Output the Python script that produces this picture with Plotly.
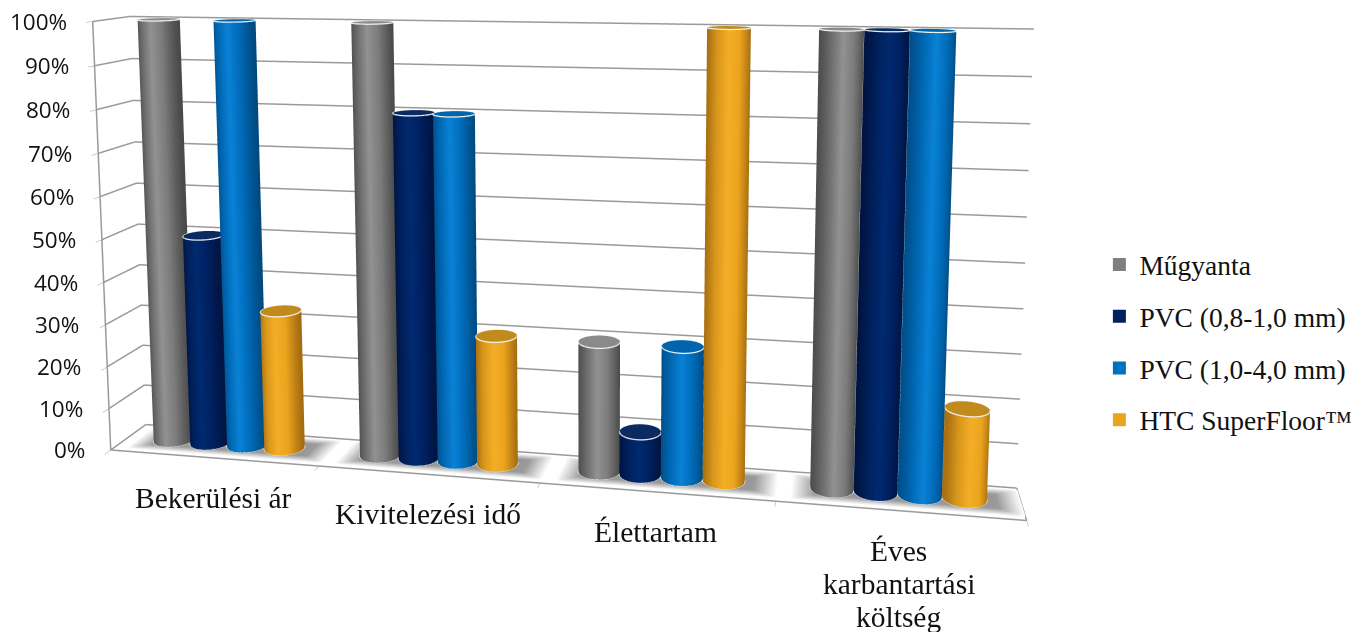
import numpy as np
import plotly.graph_objects as go

categories = ["Bekerülési ár", "Kivitelezési idő", "Élettartam", "Éves<br>karbantartási<br>költség"]
series_names = ["Műgyanta", "PVC (0,8-1,0 mm)", "PVC (1,0-4,0 mm)", "HTC SuperFloor™"]
mugyanta = [100, 100, 30, 100]
pvc_thin = [50, 80, 10, 100]
pvc_thick = [100, 80, 30, 100]
htc = [33, 30, 100, 20]
values = [mugyanta, pvc_thin, pvc_thick, htc]
z_ticks = list(range(0, 101, 10))
z_labels = [f"{i}%" for i in z_ticks]
colors = ["#7f7f7f", "#002060", "#0070c0", "#eaa51e"]
caps = ["#8a8a8a", "#0a2a60", "#0065ad", "#c08a1c"]
scales = [
    [[0, "#4e4e4e"], [0.2, "#6c6c6c"], [0.45, "#929292"], [0.7, "#7c7c7c"], [1, "#4a4a4a"]],
    [[0, "#001440"], [0.2, "#00205c"], [0.45, "#002a70"], [0.7, "#002060"], [1, "#00133c"]],
    [[0, "#00508c"], [0.2, "#0068b4"], [0.45, "#0a82d6"], [0.7, "#006cba"], [1, "#004a80"]],
    [[0, "#a87012"], [0.2, "#d8961c"], [0.45, "#f4ae26"], [0.7, "#eca41e"], [1, "#a46c10"]],
]

FIG_H = 1120
SHIFT = 484
ASPECT = dict(x=2.14, y=0.17, z=1.045)
RX = 0.09
RY = RX * (ASPECT["x"] / 4) / ASPECT["y"]
SPACING = 0.181
EYE = dict(x=0.653, y=-2.985, z=0.7575)
CENTER = dict(x=0.098, y=0.014, z=0.407)
view = np.arctan2(EYE["y"] - CENTER["y"], EYE["x"] - CENTER["x"])
theta = np.linspace(0, 2 * np.pi, 73)

fig = go.Figure()
none_hover = dict(hoverinfo="skip", showscale=False, showlegend=False)
flat = dict(ambient=1, diffuse=0, specular=0, roughness=1, fresnel=0)
grid = "#9a9a9a"

def line(x, y, z, width=3, color=grid):
    fig.add_trace(go.Scatter3d(x=x, y=y, z=z, mode="lines", line=dict(color=color, width=width),
                               hoverinfo="skip", showlegend=False))

# walls: thick grid lines and axis lines
for t in z_ticks:
    line([0, 0, 4], [0, 1, 1], [t, t, t])
line([0, 4, 4], [0, 0, 1], [0, 0, 0])
line([0, 0], [0, 0], [0, 100])

# floor shadows
for c in range(len(categories)):
    gx = np.linspace(c + 0.5 - 0.44, c + 0.5 + 0.50, 40)
    gy = np.linspace(0.08, 0.92, 14)
    X, Y = np.meshgrid(gx, gy)
    fade = np.minimum(np.clip((0.47 - np.abs(X - c - 0.53)) / 0.1, 0, 1),
                      np.clip((0.42 - np.abs(Y - 0.5)) / 0.2, 0, 1))
    fig.add_trace(go.Surface(x=X, y=Y, z=np.full(X.shape, 0.15), surfacecolor=fade, cmin=0, cmax=1,
                             colorscale=[[0, "#ffffff"], [1, "#989898"]], lighting=flat, **none_hover))

for s, (name, vals) in enumerate(zip(series_names, values)):
    for c, v in enumerate(vals):
        cx = c + 0.5 + (s - 1.5) * SPACING
        cy = 0.5
        xs = cx + RX * np.cos(theta)
        ys = cy + RY * np.sin(theta)
        X = np.vstack([xs, xs])
        Y = np.vstack([ys, ys])
        Z = np.vstack([np.full(theta.shape, 0.2), np.full(theta.shape, v)])
        u = (np.cos(theta - (view + np.pi / 2)) + 1) / 2
        U = np.vstack([u, u])
        fig.add_trace(go.Surface(x=X, y=Y, z=Z, surfacecolor=U, cmin=0, cmax=1, colorscale=scales[s],
                                 lighting=flat, **none_hover))
        rr = np.array([0, 1.0])
        Xc = cx + RX * np.outer(rr, np.cos(theta))
        Yc = cy + RY * np.outer(rr, np.sin(theta))
        fig.add_trace(go.Surface(x=Xc, y=Yc, z=np.full(Xc.shape, v), surfacecolor=np.zeros(Xc.shape), cmin=0, cmax=1,
                                 colorscale=[[0, caps[s]], [1, caps[s]]], lighting=flat, **none_hover))
        for zr in (v, 0.2):
            line(xs, ys, np.full(theta.shape, zr), width=2.5, color="#f4f4f0")

# legend entries
for s, name in enumerate(series_names):
    fig.add_trace(go.Scatter3d(x=[None], y=[None], z=[None], mode="markers", name=name, legendgroup=name,
                               marker=dict(symbol="square", size=13, color=colors[s]), showlegend=True))

annotations = [dict(x=0, y=0, z=t, text=lbl, showarrow=False, xanchor="right", yanchor="middle", xshift=-24,
                    font=dict(family="Open Sans", size=22.5, color="#111111"))
               for t, lbl in zip(z_ticks, z_labels)]
for c, t in enumerate(categories):
    for i, part in enumerate(t.split("<br>")):
        annotations.append(dict(x=c + 0.5, y=0, z=0, text=part, showarrow=False, yanchor="top", yshift=-22 - 33 * i,
                                font=dict(family="Liberation Serif", size=29.5, color="#111111")))

fig.update_layout(
    width=1364, height=FIG_H,
    margin=dict(l=0, r=0, t=0, b=0),
    paper_bgcolor="white",
    font=dict(family="Open Sans", color="black"),
    legend=dict(x=0.806, y=1 - (342 + SHIFT) / FIG_H, yanchor="middle", xanchor="left", tracegroupgap=13,
                font=dict(family="Liberation Serif", size=27.5, color="#111111"), itemclick=False, itemdoubleclick=False),
    scene=dict(
        domain=dict(x=[0, 0.865], y=[0, 1]),
        aspectmode="manual",
        aspectratio=ASPECT,
        camera=dict(eye=EYE, center=CENTER, up=dict(x=0, y=0, z=1)),
        xaxis=dict(range=[0, 4], title="", showgrid=False, zeroline=False, showline=False,
                   tickvals=[0, 1, 2, 3, 4], ticktext=["", "", "", "", ""], ticks="outside", ticklen=10, tickcolor=grid,
                   showbackground=False, showspikes=False),
        yaxis=dict(range=[0, 1], title="", showgrid=False, zeroline=False, showline=False,
                   showticklabels=False, ticks="", showbackground=False, showspikes=False),
        zaxis=dict(range=[0, 100], title="", showgrid=False, zeroline=False, showline=False,
                   tickvals=z_ticks, ticktext=[""] * len(z_ticks), tickangle=0,
                   ticks="outside", ticklen=10, tickcolor=grid,
                   showbackground=False, showspikes=False),
        annotations=annotations,
    ),
)
post = ("document.documentElement.style.overflow='hidden';document.body.style.margin='0';"
        "document.body.style.overflow='hidden';"
        f"document.getElementById('{{plot_id}}').style.marginTop='-{SHIFT}px';")
fig.write_html("out.html", config=dict(displayModeBar=False), post_script=post)
